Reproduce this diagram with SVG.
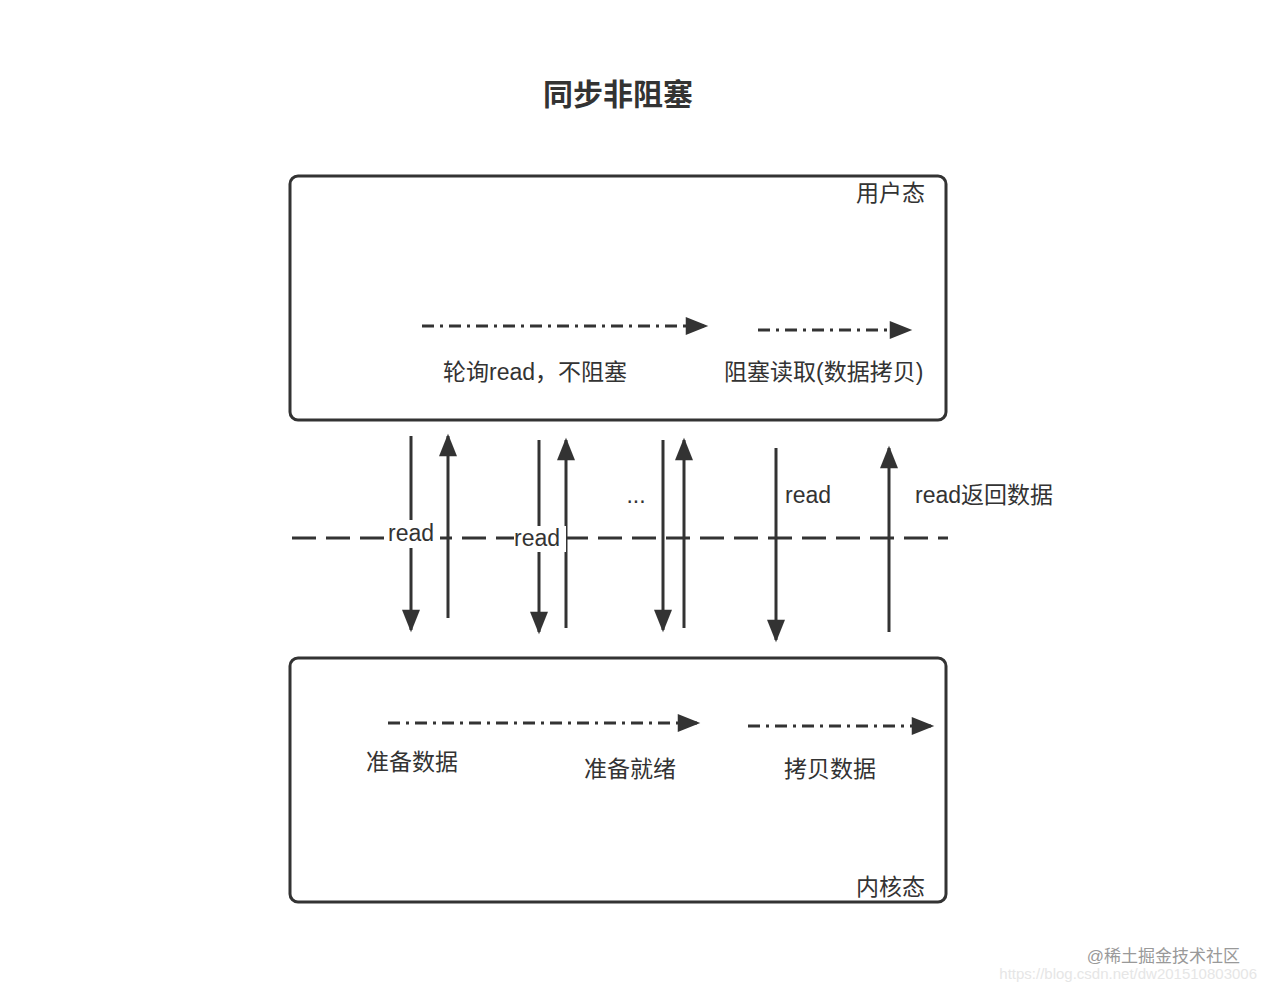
<svg xmlns="http://www.w3.org/2000/svg" width="1266" height="992" viewBox="0 0 1266 992">
<style>
text{font-family:"Liberation Sans","Noto Sans CJK SC",sans-serif;fill:#333;font-size:23px}
.box{fill:none;stroke:#333;stroke-width:3}
.v{stroke:#333;stroke-width:3;fill:none}
.dd{stroke:#333;stroke-width:3;fill:none;stroke-dasharray:12 6 3 6}
</style>
<defs>
<marker id="a" markerWidth="10" markerHeight="8" refX="9" refY="4" orient="auto" markerUnits="userSpaceOnUse" viewBox="0 0 10 8"><path d="M0,0L10,4L0,8Z" fill="#333"/></marker>
<marker id="b" viewBox="0 0 10 8" refX="9" refY="4" markerWidth="28" markerHeight="18" orient="auto" markerUnits="userSpaceOnUse"><path d="M0,0L10,4L0,8Z" fill="#333"/></marker>
</defs>
<rect width="1266" height="992" fill="#fff"/>
<text x="618" y="105" text-anchor="middle" style="font-size:30px;font-weight:bold">同步非阻塞</text>
<g id="user"><rect class="box" x="290" y="176" width="656" height="244" rx="8"/><text x="925" y="201" text-anchor="end">用户态</text></g>
<g id="kernel"><rect class="box" x="290" y="658" width="656" height="244" rx="8"/><text x="925" y="895" text-anchor="end">内核态</text></g>
<g id="connectors">
<line x1="292" y1="538" x2="948" y2="538" stroke="#333" stroke-width="3" stroke-dasharray="24 10"/>
<path class="dd" d="M422,326H706" marker-end="url(#b)"/>
<path class="dd" d="M758,330H910" marker-end="url(#b)"/>
<path class="dd" d="M388,723H698" marker-end="url(#b)"/>
<path class="dd" d="M748,726H932" marker-end="url(#b)"/>
<g class="v">
<path d="M411,436V630" marker-end="url(#b)"/>
<path d="M448,618V436" marker-end="url(#b)"/>
<path d="M539,440V632" marker-end="url(#b)"/>
<path d="M566,628V440" marker-end="url(#b)"/>
<path d="M663,440V630" marker-end="url(#b)"/>
<path d="M684,628V440" marker-end="url(#b)"/>
<path d="M776,448V640" marker-end="url(#b)"/>
<path d="M889,632V448" marker-end="url(#b)"/>
</g>
</g>
<rect x="388" y="520" width="52" height="28" fill="#fff"/>
<text x="388" y="541">read</text>
<rect x="514" y="526" width="52" height="26" fill="#fff"/>
<text x="514" y="546">read</text>
<text x="636" y="503" text-anchor="middle">...</text>
<text x="785" y="503">read</text>
<text x="915" y="503">read返回数据</text>
<text x="443" y="380">轮询read，不阻塞</text>
<text x="724" y="380">阻塞读取(数据拷贝)</text>
<text x="366" y="770">准备数据</text>
<text x="584" y="777">准备就绪</text>
<text x="784" y="777">拷贝数据</text>
<text x="1240" y="962" text-anchor="end" style="font-size:17px;fill:#999">@稀土掘金技术社区</text>
<text x="1257" y="979" text-anchor="end" style="font-size:15px;fill:#e6e6e6">https://blog.csdn.net/dw201510803006</text>
</svg>
